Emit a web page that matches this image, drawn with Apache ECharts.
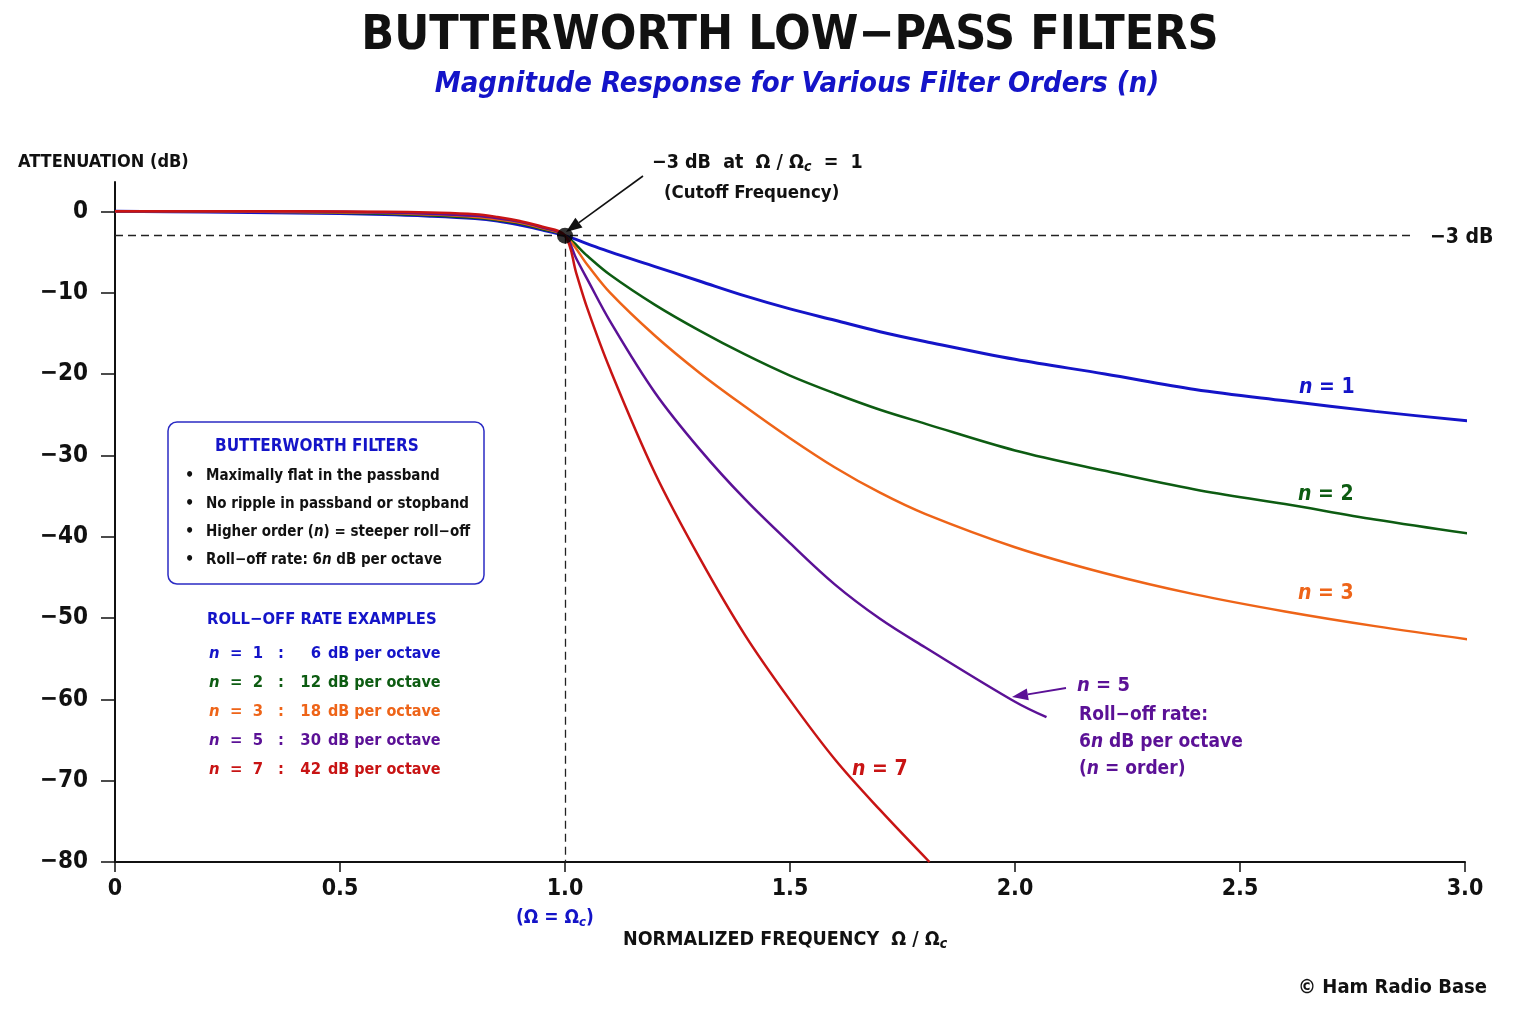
<!DOCTYPE html>
<html>
<head>
<meta charset="utf-8">
<title>Butterworth Low-Pass Filters</title>
<script src="https://cdn.jsdelivr.net/npm/echarts@6/dist/echarts.min.js"></script>
<style>
  html, body { margin: 0; padding: 0; background: #fff; }
  #chart { width: 1536px; height: 1024px; }
</style>
</head>
<body>
<div id="chart"></div>
<script>
// normalized frequency (Ω/Ωc)
const passFreq = [0, 0.2, 0.4, 0.6, 0.7, 0.8, 0.85, 0.9, 0.95, 1.0]
const stopFreq = [1.05, 1.1, 1.2, 1.3, 1.4, 1.5, 1.6, 1.7, 1.8, 2.0, 2.2, 2.4, 2.6, 2.8, 3.03]
const n5StopFreq = [1.025, 1.05, 1.1, 1.2, 1.3, 1.4, 1.5, 1.6, 1.7, 1.8, 2.0, 2.07]
const n7StopFreq = [1.025, 1.05, 1.1, 1.2, 1.3, 1.4, 1.5, 1.6, 1.7, 1.81]

// attenuation in dB
const n1Pass = [0, -0.1, -0.2, -0.4, -0.6, -0.9, -1.2, -1.7, -2.3, -3]
const n2Pass = [0, 0, -0.1, -0.3, -0.5, -0.8, -1.1, -1.5, -2.2, -3]
const n3Pass = [0, 0, -0.1, -0.2, -0.4, -0.7, -1.0, -1.4, -2.1, -3]
const n5Pass = [0, 0, 0, -0.15, -0.3, -0.55, -0.85, -1.3, -2.0, -3]
const n7Pass = [0, 0, 0, -0.05, -0.15, -0.35, -0.7, -1.2, -1.9, -3]

const n1Stop = [-4.0, -5.0, -6.8, -8.6, -10.4, -12.0, -13.4, -14.8, -16.0, -18.2, -20.0, -21.9, -23.3, -24.6, -25.9]
const n2Stop = [-5.5, -7.8, -11.5, -14.7, -17.6, -20.2, -22.4, -24.4, -26.1, -29.4, -31.9, -34.2, -36.0, -37.9, -39.8]
const n3Stop = [-6.6, -10.0, -15.3, -19.9, -24.0, -27.9, -31.5, -34.6, -37.2, -41.3, -44.5, -47.1, -49.2, -51.0, -52.8]
const n5Stop = [-5.8, -8.4, -13.5, -22.3, -29.3, -35.4, -40.8, -45.9, -50.1, -53.6, -60.3, -62.2]
const n7Stop = [-7.6, -12.0, -19.4, -32.2, -42.7, -52.1, -60.1, -67.4, -73.6, -80]

const yTicks = [0, -10, -20, -30, -40, -50, -60, -70, -80]
const xTicks = [0, 0.5, 1.0, 1.5, 2.0, 2.5, 3.0]
const cutoff = [1.0, -3]

const FONT = "'DejaVu Sans Condensed', 'Liberation Sans Narrow', sans-serif"
const BLUE = '#1414c8'
const GREEN = '#0d5c12'
const ORANGE = '#ee6418'
const PURPLE = '#5b1196'
const RED = '#c81414'

function pairs(xs, ys) {
  return xs.map((x, i) => [x, ys[i]])
}

function curve(name, color, width, pass, stopX, stop) {
  return {
    name: name,
    type: 'line',
    data: pairs(passFreq, pass).concat(pairs(stopX, stop)),
    smooth: 0.35,
    showSymbol: false,
    clip: false,
    silent: true,
    lineStyle: { color: color, width: width }
  }
}

function txt(x, y, text, opts) {
  opts = opts || {}
  return {
    type: 'text', x: x, y: y, silent: true,
    style: {
      text: text,
      fill: opts.color || '#111',
      font: (opts.italic ? 'italic ' : '') + (opts.weight || 'bold') + ' ' + (opts.size || 20) + 'px ' + FONT,
      textAlign: opts.align || 'left',
      textVerticalAlign: 'middle'
    }
  }
}

function arrow(x1, y1, x2, y2, color, width) {
  const a = Math.atan2(y2 - y1, x2 - x1)
  const len = 16, half = 6
  const bx = x2 - len * Math.cos(a), by = y2 - len * Math.sin(a)
  return [
    { type: 'line', silent: true, shape: { x1: x1, y1: y1, x2: bx, y2: by }, style: { stroke: color, lineWidth: width } },
    { type: 'polygon', silent: true, shape: { points: [
      [x2, y2],
      [bx + half * Math.sin(a), by - half * Math.cos(a)],
      [bx - half * Math.sin(a), by + half * Math.cos(a)]
    ] }, style: { fill: color } }
  ]
}

function richTxt(x, y, text, color, size, weight) {
  const w = weight || 'bold'
  const rich = {
    i: { fontFamily: FONT, fontSize: size, fontStyle: 'italic', fontWeight: w, fill: color },
    r: { fontFamily: FONT, fontSize: size, fontWeight: w, fill: color },
    sub: { fontFamily: FONT, fontSize: Math.round(size * 0.7), fontStyle: 'italic', fontWeight: w, fill: color, padding: [Math.round(size * 0.45), 0, 0, 0] }
  }
  return {
    type: 'text', x: x, y: y, silent: true,
    style: { text: text, rich: rich, textVerticalAlign: 'middle', textAlign: 'left', fill: color }
  }
}

const rollRows = [
  ['1', '6', BLUE],
  ['2', '12', GREEN],
  ['3', '18', ORANGE],
  ['5', '30', PURPLE],
  ['7', '42', RED]
]

const bullets = [
  '{r|Maximally flat in the passband}',
  '{r|No ripple in passband or stopband}',
  '{r|Higher order (}{i|n}{r|) = steeper roll−off}',
  '{r|Roll−off rate: 6}{i|n}{r| dB per octave}'
]

const graphics = [
  txt(790, 37, 'BUTTERWORTH LOW−PASS FILTERS', { size: 48, align: 'center' }),
  txt(797, 84, 'Magnitude Response for Various Filter Orders (n)', { size: 29, align: 'center', italic: true, color: BLUE }),
  txt(18, 162, 'ATTENUATION (dB)', { size: 18 }),
  richTxt(623, 940, '{r|NORMALIZED FREQUENCY  Ω / Ω}{sub|c}', '#111', 19.5),
  richTxt(516, 918, '{r|(Ω = Ω}{sub|c}{r|)}', BLUE, 19),
  richTxt(652, 163, '{r|−3 dB  at  Ω / Ω}{sub|c}{r|  =  1}', '#111', 19.5),
  txt(664, 193, '(Cutoff Frequency)', { size: 18.5 }),
  txt(1430, 238, '−3 dB', { size: 21 }),
  richTxt(1299, 388, '{i|n}{r| = 1}', BLUE, 21),
  richTxt(1298, 495, '{i|n}{r| = 2}', GREEN, 21),
  richTxt(1298, 594, '{i|n}{r| = 3}', ORANGE, 21),
  richTxt(852, 770, '{i|n}{r| = 7}', RED, 21),
  richTxt(1077, 686, '{i|n}{r| = 5}', PURPLE, 20),
  txt(1079, 715, 'Roll−off rate:', { size: 19, color: PURPLE }),
  richTxt(1079, 742, '{r|6}{i|n}{r| dB per octave}', PURPLE, 19),
  richTxt(1079, 769, '{r|(}{i|n}{r| = order)}', PURPLE, 19),
  txt(1487, 988, '© Ham Radio Base', { size: 20, align: 'right' }),
  {
    type: 'rect', silent: true,
    shape: { x: 168, y: 422, width: 316, height: 162, r: 9 },
    style: { fill: '#fff', stroke: '#2b2bc4', lineWidth: 1.5 }
  },
  txt(215, 447, 'BUTTERWORTH FILTERS', { size: 17, color: BLUE }),
  txt(207, 620, 'ROLL−OFF RATE EXAMPLES', { size: 16.5, color: BLUE })
]

bullets.forEach((b, i) => {
  const y = 476 + i * 28
  graphics.push(txt(185, y, '•', { size: 16 }))
  graphics.push(richTxt(206, y, b, '#111', 15))
})

rollRows.forEach((row, i) => {
  const y = 654 + i * 29
  graphics.push(richTxt(209, y, '{i|n}{r|  =  ' + row[0] + '}', row[2], 16.5))
  graphics.push(txt(278, y, ':', { size: 16.5, color: row[2] }))
  graphics.push(txt(321, y, row[1], { size: 16.5, align: 'right', color: row[2] }))
  graphics.push(txt(328, y, 'dB per octave', { size: 16, color: row[2] }))
})

arrow(643, 176, 566, 232, '#111', 1.6).forEach(g => graphics.push(g))
arrow(1066, 688, 1012, 697, PURPLE, 1.8).forEach(g => graphics.push(g))

const chart = echarts.init(document.getElementById('chart'))
chart.setOption({
  backgroundColor: '#fff',
  animation: false,
  grid: { left: 115, right: 71, top: 182, bottom: 162 },
  xAxis: {
    type: 'value',
    min: 0,
    max: 3.0,
    interval: 0.5,
    splitLine: { show: false },
    axisLine: { onZero: false, lineStyle: { color: '#111', width: 2 } },
    axisTick: { show: true, length: 10, lineStyle: { color: '#111', width: 1.5 } },
    axisLabel: {
      margin: 16,
      color: '#111',
      fontFamily: FONT,
      fontWeight: 'bold',
      fontSize: 23,
      customValues: xTicks,
      formatter: v => v === 0 ? '0' : v.toFixed(1)
    }
  },
  yAxis: {
    type: 'value',
    min: -80,
    max: 3.6,
    splitLine: { show: false },
    axisLine: { show: true, onZero: false, lineStyle: { color: '#111', width: 2 } },
    axisTick: { show: true, length: 14, customValues: yTicks, lineStyle: { color: '#111', width: 1.5 } },
    axisLabel: {
      margin: 27,
      color: '#111',
      fontFamily: FONT,
      fontWeight: 'bold',
      fontSize: 24,
      customValues: yTicks,
      formatter: v => String(v).replace('-', '−')
    }
  },
  series: [
    curve('n = 1', BLUE, 3, n1Pass, stopFreq, n1Stop),
    curve('n = 2', GREEN, 2.5, n2Pass, stopFreq, n2Stop),
    curve('n = 3', ORANGE, 2.5, n3Pass, stopFreq, n3Stop),
    curve('n = 5', PURPLE, 2.5, n5Pass, n5StopFreq, n5Stop),
    curve('n = 7', RED, 2.5, n7Pass, n7StopFreq, n7Stop),
    {
      name: 'cutoff',
      type: 'scatter',
      data: [cutoff],
      symbolSize: 16,
      itemStyle: { color: '#000' },
      silent: true,
      z: 5,
      markLine: {
        silent: true,
        symbol: ['none', 'none'],
        label: { show: false },
        lineStyle: { color: '#222', width: 1.3, type: [8, 5] },
        data: [
          [{ coord: [0, -3] }, { coord: [2.88, -3] }],
          [{ coord: [1, -3] }, { coord: [1, -80] }]
        ]
      }
    }
  ],
  graphic: graphics
})
</script>
</body>
</html>
